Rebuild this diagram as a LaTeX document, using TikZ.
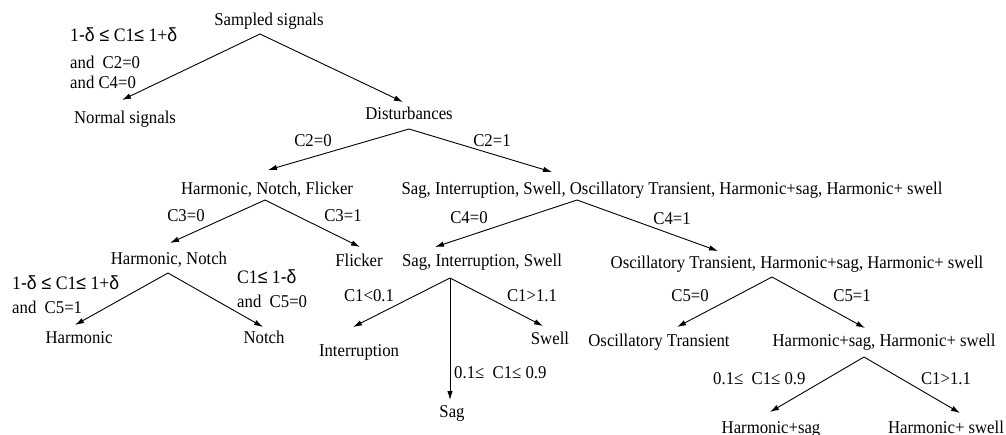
\documentclass[tikz,border=0pt]{standalone}
\usepackage{fontspec}
\setmainfont[FakeStretch=0.93]{Liberation Serif}
\newfontfamily\symfont[FakeStretch=0.93]{Liberation Sans}
\usetikzlibrary{arrows.meta}

\tikzset{
  txt/.style={inner sep=0pt, anchor=base, font=\fontsize{18}{20}\selectfont},
  cond/.style={txt, anchor=base west},
  bigcond/.style={cond, font=\fontsize{19}{21}\selectfont},
  branch/.style={line width=0.9pt, -{Latex[length=9pt,width=5.5pt]}},
}

\begin{document}
\begin{tikzpicture}[x=1pt,y=-1pt]
\useasboundingbox (0,0) rectangle (1006,434);

% ---- class labels (positions are baselines) ----
\node[txt] (ss)    at (269,25)  {Sampled signals};
\node[txt] (ns)    at (125,123) {Normal signals};
\node[txt] (dist)  at (409,119) {Disturbances};
\node[txt] (hnf)   at (267,194) {Harmonic, Notch, Flicker};
\node[txt] (all)   at (672,194) {Sag, Interruption, Swell, Oscillatory Transient, Harmonic+sag, Harmonic+ swell};
\node[txt] (hn)    at (169,264) {Harmonic, Notch};
\node[txt] (fl)    at (359,266) {Flicker};
\node[txt] (sis)   at (482,266) {Sag, Interruption, Swell};
\node[txt] (oth)   at (797,268) {Oscillatory Transient, Harmonic+sag, Harmonic+ swell};
\node[txt] (harm)  at (79,343)  {Harmonic};
\node[txt] (notch) at (264,343) {Notch};
\node[txt] (intr)  at (359,356) {Interruption};
\node[txt] (swell) at (550,344) {Swell};
\node[txt] (sag)   at (452,417) {Sag};
\node[txt] (ot)    at (659,346) {Oscillatory Transient};
\node[txt] (hsw)   at (884,346) {Harmonic+sag, Harmonic+ swell};
\node[txt] (hs)    at (771,433) {Harmonic+sag};
\node[txt] (hw)    at (946,433) {Harmonic+ swell};

% ---- branch conditions ----
\node[bigcond] (k0a) at (70,41.5) {1{\symfont -δ ≤} C1{\symfont ≤} 1+{\symfont δ}};
\node[cond]    (k0b) at (70,68)   {and\ \ C2=0};
\node[cond]    (k0c) at (70,88)   {and C4=0};
\node[txt] (k1) at (313,146) {C2=0};
\node[txt] (k2) at (492,146) {C2=1};
\node[txt] (k3) at (186,221) {C3=0};
\node[txt] (k4) at (343,221) {C3=1};
\node[txt] (k5) at (469,223) {C4=0};
\node[txt] (k6) at (672,224) {C4=1};
\node[bigcond] (k7a) at (12,289.5) {1{\symfont -δ ≤} C1{\symfont ≤} 1+{\symfont δ}};
\node[cond]    (k7b) at (12,313)   {and\ \ C5=1};
\node[bigcond] (k8a) at (237,283.5) {C1{\symfont ≤} 1{\symfont -δ}};
\node[cond]    (k8b) at (237,307)  {and\ \ C5=0};
\node[txt] (k9)  at (369,301) {C1<0.1};
\node[txt] (k10) at (532,301) {C1>1.1};
\node[cond] (k11) at (454,378) {0.1≤\ \ C1≤ 0.9};
\node[txt] (k12) at (690,301) {C5=0};
\node[txt] (k13) at (852,301) {C5=1};
\node[cond] (k14) at (713,384) {0.1≤\ \ C1≤ 0.9};
\node[txt] (k15) at (946,384) {C1>1.1};

% ---- split points below each label, and arrow ends ----
\coordinate (ssA)   at (260,34);
\coordinate (distA) at (409,129);
\coordinate (hnfA)  at (265,200);
\coordinate (allA)  at (577,200);
\coordinate (hnA)   at (168,273);
\coordinate (sisA)  at (450,278);
\coordinate (othA)  at (772,277);
\coordinate (hswA)  at (864,357);

\coordinate (nsT)    at (122,100);
\coordinate (distT)  at (403,102);
\coordinate (hnfT)   at (268,170);
\coordinate (allT)   at (552,172);
\coordinate (hnT)    at (170,243);
\coordinate (flT)    at (360,247);
\coordinate (sisT)   at (435,247);
\coordinate (othT)   at (718,251);
\coordinate (harmT)  at (75,325);
\coordinate (notchT) at (263,327);
\coordinate (intrT)  at (353,327);
\coordinate (sagT)   at (450,400);
\coordinate (swellT) at (543,326);
\coordinate (otT)    at (677,327);
\coordinate (hswT)   at (865,328);
\coordinate (hsT)    at (770,412);
\coordinate (hwT)    at (960,413);

% ---- branches ----
\draw[branch] (ssA) -- (nsT);
\draw[branch] (ssA) -- (distT);
\draw[branch] (distA) -- (hnfT);
\draw[branch] (distA) -- (allT);
\draw[branch] (hnfA) -- (hnT);
\draw[branch] (hnfA) -- (flT);
\draw[branch] (allA) -- (sisT);
\draw[branch] (allA) -- (othT);
\draw[branch] (hnA) -- (harmT);
\draw[branch] (hnA) -- (notchT);
\draw[branch] (sisA) -- (intrT);
\draw[branch] (sisA) -- (sagT);
\draw[branch] (sisA) -- (swellT);
\draw[branch] (othA) -- (otT);
\draw[branch] (othA) -- (hswT);
\draw[branch] (hswA) -- (hsT);
\draw[branch] (hswA) -- (hwT);
\end{tikzpicture}
\end{document}
